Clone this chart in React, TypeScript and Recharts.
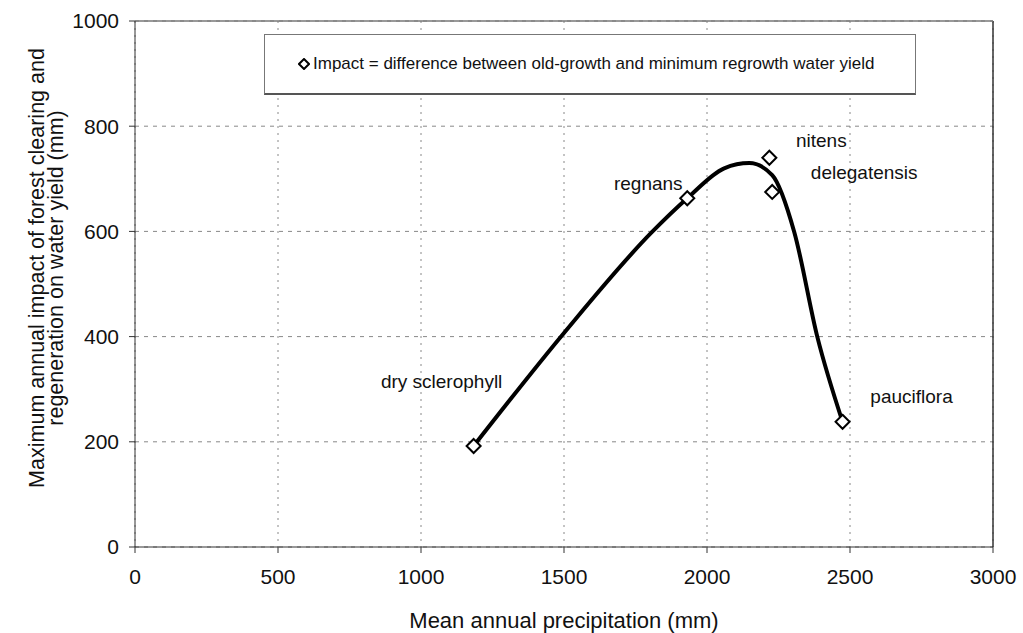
import { ComposedChart, Line, Scatter, XAxis, YAxis, CartesianGrid, Label, ReferenceLine } from 'recharts';

// Site means: precipitation (mm) vs. maximum impact on water yield (mm)
const forestTypes = ['dry sclerophyll', 'regnans', 'nitens', 'delegatensis', 'pauciflora'];
const precipitation = [1184, 1931, 2218, 2228, 2474];
const impact = [192, 663, 740, 675, 238];

// Hand-fitted smooth curve through the sites
const curvePrecip = [1184, 1500, 1808, 1931, 2060, 2148, 2228, 2305, 2386, 2474];
const curveImpact = [192, 407, 599, 663, 720, 730, 707, 599, 399, 238];

const xTicks = [0, 500, 1000, 1500, 2000, 2500, 3000];
const yTicks = [0, 200, 400, 600, 800, 1000];

const legendText = 'Impact = difference between old-growth and minimum regrowth water yield';

// label placement relative to each marker (px)
const LABEL_OFFSET: Record<string, [number, number]> = {
    'dry sclerophyll': [-32, -65],
    regnans: [-39, -15],
    nitens: [52, -17],
    delegatensis: [92, -19],
    pauciflora: [69, -25],
};

const FONT = '"Liberation Sans", Arial, sans-serif';

const sites = forestTypes.map((name, i) => ({ name, x: precipitation[i], y: impact[i] }));
const curve = curvePrecip.map((x, i) => ({ x, y: curveImpact[i] }));

const Diamond = (props: any) => {
    const { cx, cy, payload } = props;
    const r = 7;
    const [dx, dy] = LABEL_OFFSET[payload.name] || [0, -20];
    return (
        <g>
            <path
                d={`M${cx},${cy - r} L${cx + r},${cy} L${cx},${cy + r} L${cx - r},${cy} Z`}
                fill="#fff"
                stroke="#000"
                strokeWidth={2}
            />
            <text
                x={cx + dx}
                y={cy + dy}
                textAnchor="middle"
                dominantBaseline="central"
                fontSize={19}
                fontFamily={FONT}
                fill="#111"
            >
                {payload.name}
            </text>
        </g>
    );
};

// legend box drawn over the plot, upper middle
const LegendBox = () => (
    <div
        style={{
            position: 'absolute',
            left: 264,
            top: 34,
            width: 652,
            height: 61,
            boxSizing: 'border-box',
            border: '1px solid #777',
            borderBottom: '2px solid #555',
            background: '#fff',
            display: 'flex',
            alignItems: 'center',
            paddingLeft: 33,
            fontFamily: FONT,
            fontSize: 17,
            color: '#111',
            whiteSpace: 'nowrap',
        }}
    >
        <svg width={12} height={12} style={{ marginRight: 3 }}>
            <path d="M6,1 L11,6 L6,11 L1,6 Z" fill="#fff" stroke="#000" strokeWidth={2} />
        </svg>
        <span>{legendText}</span>
    </div>
);

const YTitle = () => (
    <text transform="rotate(-90)" textAnchor="middle" fontSize={21.5} fontFamily={FONT} fill="#111">
        <tspan x={-268} y={44}>Maximum annual impact of forest clearing and</tspan>
        <tspan x={-268} y={63}>regeneration on water yield (mm)</tspan>
    </text>
);

const XTitle = (props: any) => {
    const { viewBox } = props;
    return (
        <text
            x={viewBox.x + viewBox.width / 2}
            y={628}
            textAnchor="middle"
            fontSize={22}
            fontFamily={FONT}
            fill="#111"
        >
            Mean annual precipitation (mm)
        </text>
    );
};

export default function App() {
    const tickStyle = { fontSize: 21, fontFamily: FONT, fill: '#111' };
    return (
        <div style={{ position: 'absolute', left: 0, top: 0, width: 1023, height: 633, background: '#fff' }}>
            <ComposedChart width={1023} height={633} margin={{ top: 21, right: 30, bottom: 0, left: 0 }}>
                <CartesianGrid horizontal vertical={false} stroke="#888" strokeDasharray="4 5" />
                <CartesianGrid horizontal={false} vertical stroke="#888" strokeDasharray="2 5" />
                <XAxis
                    type="number"
                    dataKey="x"
                    domain={[0, 3000]}
                    ticks={xTicks}
                    height={86}
                    tick={tickStyle}
                    tickMargin={16}
                    stroke="#333"
                    allowDataOverflow
                >
                    <Label content={<XTitle />} />
                </XAxis>
                <YAxis
                    type="number"
                    dataKey="y"
                    domain={[0, 1000]}
                    ticks={yTicks}
                    width={135}
                    tick={tickStyle}
                    tickMargin={10}
                    stroke="#333"
                >
                    <Label content={<YTitle />} />
                </YAxis>
                <ReferenceLine x={3000} stroke="#333" strokeWidth={1.5} />
                <ReferenceLine y={1000} stroke="#777" strokeWidth={1.5} />
                <Line
                    data={curve}
                    dataKey="y"
                    type="monotone"
                    stroke="#000"
                    strokeWidth={4}
                    dot={false}
                    activeDot={false}
                    isAnimationActive={false}
                />
                <Scatter data={sites} dataKey="y" shape={<Diamond />} isAnimationActive={false} />
            </ComposedChart>
            <LegendBox />
        </div>
    );
}
